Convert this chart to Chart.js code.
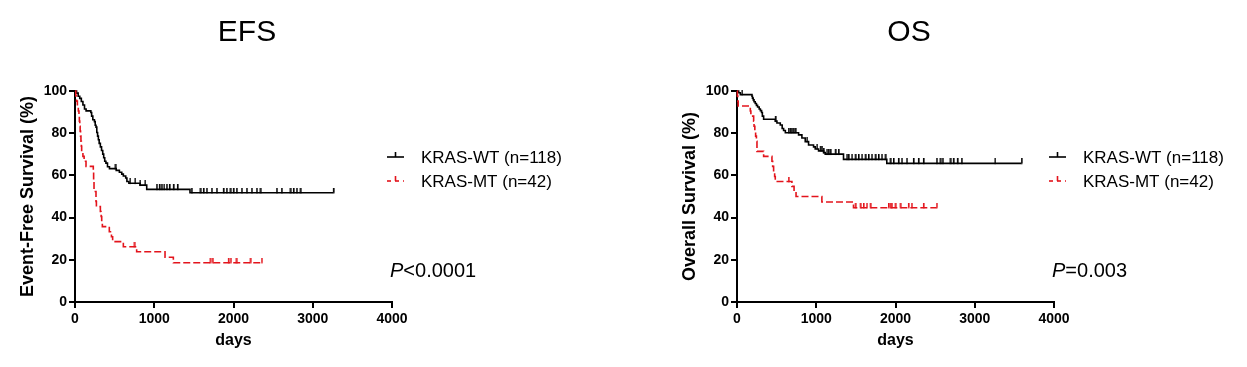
<!DOCTYPE html>
<html>
<head>
<meta charset="utf-8">
<script src="https://cdn.jsdelivr.net/npm/chart.js@4.4.1/dist/chart.umd.min.js"></script>
<style>
  html, body { margin: 0; padding: 0; background: #fff; }
  #wrap { position: relative; width: 1247px; height: 367px; overflow: hidden; }
  canvas { position: absolute; top: 0; }
</style>
</head>
<body>
<div id="wrap">
  <canvas id="efs" width="620" height="367" style="left:0px"></canvas>
  <canvas id="os" width="585" height="367" style="left:662px"></canvas>
</div>
<script>
// ---------- DATA ----------
const xTicks = [0, 1000, 2000, 3000, 4000];
const yTicks = [0, 20, 40, 60, 80, 100];
const seriesLabels = ['KRAS-WT (n=118)', 'KRAS-MT (n=42)'];
const panelTitles = ['EFS', 'OS'];
const yTitles = ['Event-Free Survival (%)', 'Overall Survival (%)'];
const xTitle = 'days';
const pTexts = [['P', '<0.0001'], ['P', '=0.003']];

// EFS, KRAS-WT
const efsWtDays = [0, 20, 40, 60, 80, 100, 120, 140, 200, 210, 225, 245, 255, 265, 275, 285, 295, 305, 320, 335, 350, 362, 375, 390, 410, 435, 520, 560, 590, 610, 640, 655, 680, 820, 905, 1451, 3260];
const efsWtSurv = [100, 99, 97.5, 96.5, 95, 93.4, 91.5, 90.6, 89.8, 88.1, 86.4, 85.5, 83.8, 82.9, 80.3, 78.6, 76.9, 75.2, 73.5, 71.8, 70.1, 68.4, 66.7, 65.8, 64.1, 63.2, 62.4, 61.5, 60.6, 59.7, 58.8, 57.1, 56.3, 55.4, 53.4, 51.8, 51.8];
const efsWtCensor = [505, 694, 757, 820, 883, 1031, 1064, 1094, 1123, 1157, 1191, 1241, 1292, 1472, 1578, 1620, 1662, 1725, 1788, 1872, 1914, 1956, 1998, 2040, 2104, 2167, 2230, 2293, 2335, 2545, 2608, 2713, 2756, 2798, 2840, 3260];

// EFS, KRAS-MT
const efsMtDays = [0, 10, 20, 30, 42, 50, 55, 60, 65, 70, 75, 80, 84, 100, 115, 139, 231, 235, 240, 265, 270, 320, 330, 337, 345, 433, 460, 475, 610, 778, 1136, 1241, 2356];
const efsMtSurv = [100, 97.6, 95.2, 92.9, 90.5, 88.1, 85.7, 83.3, 81, 78.6, 76.2, 73.8, 71.4, 69, 66.7, 64.3, 61.9, 57.1, 52.4, 47.6, 45.2, 42.9, 40.5, 38.1, 35.7, 33.3, 30.9, 28.6, 26.2, 23.8, 21.2, 18.6, 18.6];
const efsMtCensor = [745, 1704, 1737, 1935, 1965, 2032, 2209, 2356];

// OS, KRAS-WT
const osWtDays = [0, 21, 42, 189, 195, 205, 215, 230, 245, 260, 280, 295, 310, 320, 336, 483, 504, 546, 570, 588, 610, 777, 819, 861, 903, 966, 987, 1029, 1092, 1113, 1344, 1890, 3591];
const osWtSurv = [100, 99.2, 98.3, 97.5, 96.6, 95.8, 94.9, 94.1, 93.2, 92.4, 91.5, 90.7, 89.8, 88.1, 86.6, 85.7, 84.8, 83.9, 82.2, 81.3, 80.2, 79.2, 77.7, 76.0, 74.4, 73.5, 72.5, 71.6, 70.8, 70.1, 67.6, 65.7, 65.7];
const osWtCensor = [63, 483, 651, 672, 693, 714, 735, 882, 1008, 1050, 1071, 1092, 1134, 1155, 1176, 1239, 1281, 1386, 1407, 1449, 1491, 1533, 1575, 1617, 1659, 1701, 1743, 1785, 1827, 1869, 1932, 1974, 2037, 2079, 2142, 2226, 2289, 2352, 2520, 2562, 2596, 2688, 2730, 2780, 2835, 3255, 3591];

// OS, KRAS-MT
const osMtDays = [0, 5, 10, 15, 168, 175, 210, 215, 225, 235, 245, 252, 336, 441, 450, 462, 475, 483, 693, 720, 745, 1071, 1470, 2520];
const osMtSurv = [100, 97.6, 95.2, 92.9, 90.5, 88.1, 85.7, 83.3, 81, 78.6, 76.2, 71.4, 69, 66.7, 64.3, 61.9, 59.5, 57.1, 54.8, 52.4, 50, 47.4, 44.7, 44.7];
const osMtCensor = [651, 1491, 1554, 1596, 1638, 1680, 1911, 1932, 1953, 1995, 2058, 2163, 2205, 2352, 2520];

// ---------- STYLE ----------
const FONT = "'Liberation Sans', Arial, Helvetica, sans-serif";
const BLACK = '#000000';
const RED = '#e3141c';
const PLOT = { left: 75, top: 91, right: 392, bottom: 302 };
const DASH = [7, 3];

function tickImage(color) {
  const c = document.createElement('canvas');
  c.width = 3; c.height = 10;
  const g = c.getContext('2d');
  g.fillStyle = color;
  g.fillRect(1, 0, 1.6, 5.5);
  return c;
}

function toPoints(days, surv) {
  return days.map((d, i) => ({ x: d, y: surv[i] }));
}
function survAt(days, surv, t) {
  let v = surv[0];
  for (let i = 0; i < days.length; i++) { if (days[i] <= t) v = surv[i]; }
  return v;
}
function censorPoints(days, surv, cens) {
  return cens.map(t => ({ x: t, y: survAt(days, surv, t) }));
}

const overlayPlugin = {
  id: 'overlay',
  afterDraw(chart, args, opts) {
    const ctx = chart.ctx;
    ctx.save();
    ctx.fillStyle = '#000';
    // title
    ctx.font = `30px ${FONT}`;
    ctx.textAlign = 'center';
    ctx.textBaseline = 'middle';
    ctx.fillText(opts.title, 247, 33);
    // legend
    const rows = [{ y: 157, color: BLACK, dash: [] }, { y: 181, color: RED, dash: [4, 4] }];
    rows.forEach((r, i) => {
      ctx.strokeStyle = r.color;
      ctx.lineWidth = 1.6;
      ctx.setLineDash(r.dash);
      ctx.beginPath();
      ctx.moveTo(387, r.y);
      ctx.lineTo(404, r.y);
      ctx.stroke();
      ctx.setLineDash([]);
      ctx.beginPath();
      ctx.moveTo(395.5, r.y);
      ctx.lineTo(395.5, r.y - 5);
      ctx.stroke();
      ctx.fillStyle = '#000';
      ctx.font = `17px ${FONT}`;
      ctx.textAlign = 'left';
      ctx.textBaseline = 'middle';
      ctx.fillText(seriesLabels[i], 421, r.y + 1);
    });
    // P value
    ctx.font = `italic 20px ${FONT}`;
    ctx.textAlign = 'left';
    ctx.textBaseline = 'middle';
    ctx.fillText(opts.p[0], 390, 271);
    const w = ctx.measureText(opts.p[0]).width;
    ctx.font = `20px ${FONT}`;
    ctx.fillText(opts.p[1], 390 + w, 271);
    ctx.restore();
  }
};

function makeChart(id, idx, wt, mt, canvasW) {
  const [wtDays, wtSurv, wtCens] = wt;
  const [mtDays, mtSurv, mtCens] = mt;
  return new Chart(document.getElementById(id), {
    type: 'scatter',
    data: {
      datasets: [
        { label: seriesLabels[0], data: toPoints(wtDays, wtSurv), showLine: true, stepped: 'before',
          borderColor: BLACK, borderWidth: 1.6, pointRadius: 0, clip: 6, order: 2 },
        { label: seriesLabels[1], data: toPoints(mtDays, mtSurv), showLine: true, stepped: 'before',
          borderColor: RED, borderWidth: 1.6, borderDash: DASH, pointRadius: 0, clip: 6, order: 1 },
        { label: 'wt censored', data: censorPoints(wtDays, wtSurv, wtCens), showLine: false,
          pointStyle: tickImage(BLACK), pointRadius: 4, clip: 10, order: 2 },
        { label: 'mt censored', data: censorPoints(mtDays, mtSurv, mtCens), showLine: false,
          pointStyle: tickImage(RED), pointRadius: 4, clip: 10, order: 1 }
      ]
    },
    options: {
      responsive: false,
      animation: false,
      devicePixelRatio: 1,
      layout: { padding: { left: 0, top: PLOT.top, right: canvasW - PLOT.right, bottom: 0 } },
      plugins: {
        legend: { display: false },
        tooltip: { enabled: false },
        title: { display: false },
        overlay: { title: panelTitles[idx], p: pTexts[idx] }
      },
      scales: {
        x: {
          type: 'linear', min: 0, max: 4000,
          afterBuildTicks: s => { s.ticks = xTicks.map(v => ({ value: v })); },
          afterFit: s => { s.height = 367 - PLOT.bottom; },
          border: { display: true, color: '#000', width: 2 },
          grid: { display: true, drawOnChartArea: false, drawTicks: true, tickLength: 6, color: '#000', lineWidth: 2 },
          ticks: { color: '#000', font: { family: FONT, size: 14, weight: 'bold' }, padding: 3, maxRotation: 0,
                   callback: v => String(v) },
          title: { display: true, text: xTitle, color: '#000', font: { family: FONT, size: 16, weight: 'bold' }, padding: { top: 0, bottom: 17 } }
        },
        y: {
          type: 'linear', min: 0, max: 100,
          afterBuildTicks: s => { s.ticks = yTicks.map(v => ({ value: v })); },
          afterFit: s => { s.width = PLOT.left; },
          border: { display: true, color: '#000', width: 2 },
          grid: { display: true, drawOnChartArea: false, drawTicks: true, tickLength: 6, color: '#000', lineWidth: 2 },
          ticks: { color: '#000', font: { family: FONT, size: 14, weight: 'bold' }, padding: 2,
                   callback: v => String(v) },
          title: { display: true, text: yTitles[idx], color: '#000', font: { family: FONT, size: 18, weight: 'bold' }, padding: { top: 17, bottom: 0 } }
        }
      }
    },
    plugins: [overlayPlugin]
  });
}

makeChart('efs', 0, [efsWtDays, efsWtSurv, efsWtCensor], [efsMtDays, efsMtSurv, efsMtCensor], 620);
makeChart('os', 1, [osWtDays, osWtSurv, osWtCensor], [osMtDays, osMtSurv, osMtCensor], 585);
</script>
</body>
</html>
